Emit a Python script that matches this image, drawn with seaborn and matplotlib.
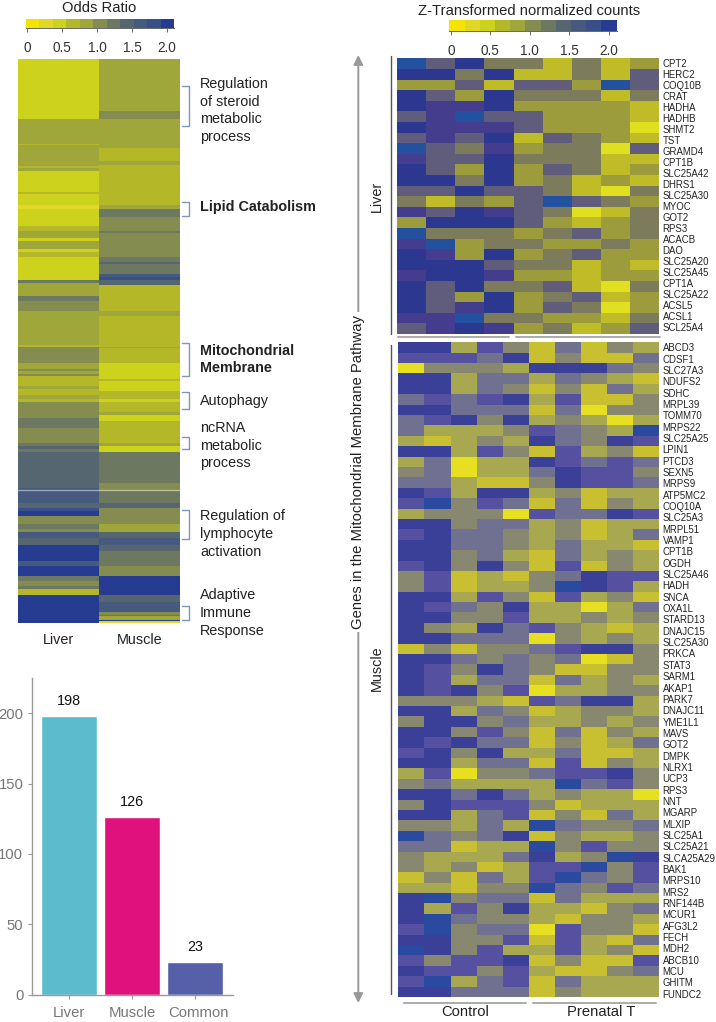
import numpy as np
import matplotlib
matplotlib.use('Agg')
import matplotlib.pyplot as plt
from matplotlib.colors import ListedColormap, Normalize
from matplotlib.cm import ScalarMappable
from matplotlib.transforms import ScaledTranslation
import seaborn as sns

W, H = 716, 1022

# odds ratio heatmap, stored as runs of terms (count, value) per tissue
or_liver_counts = [37, 15, 1, 13, 1, 2, 13, 1, 7, 2, 11, 3, 4, 2, 5, 2, 3, 14, 2, 8, 3, 6, 21, 1, 10, 4, 1, 2, 1, 6,
                   2, 4, 2, 2, 10, 6, 9, 2, 2, 2, 22, 1, 1, 7, 3, 2, 3, 5, 3, 2, 4, 4, 10, 3, 6, 3, 3, 2, 4, 17]
or_liver_vals = [.45, .85, .65, .85, .65, .85, .45, .65, .45, .25, .45, .65, .85, .45, .85, .45, .65, .45, 1.25, .85,
                 1.25, 1.05, .85, .65, 1.05, .85, 1.05, .85, 1.05, .65, .85, .65, .85, .65, 1.05, 1.25, 1.05, 1.25,
                 1.45, 1.25, 1.45, 1.6, 1.6, 1.6, 1.45, 1.8, 2.0, 1.05, 1.25, 1.05, 1.6, 1.45, 2.0, 1.6, 2.0, 1.25,
                 1.05, 1.25, .65, 2.0]
or_muscle_counts = [32, 5, 18, 8, 2, 25, 2, 5, 9, 1, 15, 3, 1, 6, 2, 2, 3, 16, 3, 19, 1, 9, 10, 1, 6, 5, 2, 6, 2, 4,
                    13, 2, 4, 19, 5, 7, 3, 10, 5, 4, 4, 4, 9, 6, 12, 4, 6, 2, 1, 2, 1, 1]
or_muscle_vals = [.85, 1.05, .85, .65, .85, .65, .85, 1.25, 1.05, 1.25, 1.05, 1.25, 1.45, 1.25, 1.6, 1.8, 1.45, .65,
                  .85, .65, .85, .65, .45, .65, .45, .65, .45, .65, .85, .45, .65, .85, .45, 1.25, 1.05, 1.25, 1.45,
                  1.05, .85, 1.45, 1.6, 1.45, 1.25, 1.05, 2.0, 1.45, 1.6, 1.05, 1.25, .85, 2.0, .25]
or_columns = ['Liver', 'Muscle']

# counts of genes per group
bar_groups = ['Liver', 'Muscle', 'Common']
bar_counts = [198, 126, 23]
bar_colors = ['#5BBCCE', '#DF117D', '#5560A8']

scale_colors = ['#F4E400', '#E0D824', '#CDD21C', '#B4B828', '#A0A73A', '#848C50',
                '#6C7860', '#566670', '#465A80', '#384F8A', '#263C90']
scale_ticks = [0, 0.5, 1.0, 1.5, 2.0]
scale_ticklabels = ['0', '0.5', '1.0', '1.5', '2.0']

# gene panels: colour bin 0 (yellow) .. 7 (blue) read cell by cell
liver_colors = ['#E0E020', '#C0BC28', '#9C9C3C', '#7C7C5C', '#605C7C', '#443C8C', '#2C3890', '#2450A0']
muscle_colors = ['#E6E020', '#C8C030', '#A8A850', '#888870', '#707090', '#5550A0', '#3A4098', '#2A4AA0']

liver_genes = ['CPT2', 'HERC2', 'COQ10B', 'CRAT', 'HADHA', 'HADHB', 'SHMT2', 'TST', 'GRAMD4', 'CPT1B', 'SLC25A42',
               'DHRS1', 'SLC25A30', 'MYOC', 'GOT2', 'RPS3', 'ACACB', 'DAO', 'SLC25A20', 'SLC25A45', 'CPT1A',
               'SLC25A22', 'ACSL5', 'ACSL1', 'SCL25A4']
muscle_genes = ['ABCD3', 'CDSF1', 'SLC27A3', 'NDUFS2', 'SDHC', 'MRPL39', 'TOMM70', 'MRPS22', 'SLC25A25', 'LPIN1',
                'PTCD3', 'SEXN5', 'MRPS9', 'ATP5MC2', 'COQ10A', 'SLC25A3', 'MRPL51', 'VAMP1', 'CPT1B', 'OGDH',
                'SLC25A46', 'HADH', 'SNCA', 'OXA1L', 'STARD13', 'DNAJC15', 'SLC25A30', 'PRKCA', 'STAT3', 'SARM1',
                'AKAP1', 'PARK7', 'DNAJC11', 'YME1L1', 'MAVS', 'GOT2', 'DMPK', 'NLRX1', 'UCP3', 'RPS3',
                'NNT', 'MGARP', 'MLXIP', 'SLC25A1', 'SLC25A21', 'SLCA25A29', 'BAK1', 'MRPS10', 'MRS2', 'RNF144B',
                'MCUR1', 'AFG3L2', 'FECH', 'MDH2', 'ABCB10', 'MCU', 'GHITM', 'FUNDC2']

liver_bins = [
    [7, 4, 6, 3, 3, 1, 3, 1, 2], [6, 6, 3, 6, 1, 1, 3, 1, 4], [2, 2, 4, 1, 4, 4, 2, 7, 4],
    [6, 4, 2, 6, 3, 3, 3, 1, 3], [6, 5, 5, 6, 2, 2, 2, 2, 1], [4, 5, 7, 4, 4, 2, 2, 2, 1],
    [6, 5, 5, 5, 4, 2, 2, 2, 0], [4, 5, 4, 6, 1, 4, 3, 2, 1], [7, 4, 3, 5, 2, 3, 3, 0, 4],
    [5, 4, 4, 6, 3, 3, 3, 1, 1], [6, 4, 2, 6, 2, 4, 3, 1, 2], [6, 6, 3, 6, 2, 3, 1, 2, 1],
    [4, 4, 6, 4, 4, 3, 1, 0, 3], [3, 1, 3, 2, 4, 7, 4, 3, 2], [5, 4, 6, 5, 4, 3, 0, 1, 3],
    [2, 6, 6, 6, 4, 2, 1, 2, 3], [7, 3, 3, 3, 2, 3, 4, 2, 3], [5, 7, 2, 3, 3, 2, 2, 3, 2],
    [6, 5, 2, 6, 2, 3, 4, 2, 2], [6, 6, 6, 4, 3, 3, 1, 2, 1], [5, 6, 6, 5, 2, 2, 1, 2, 2],
    [6, 4, 6, 3, 3, 4, 1, 0, 3], [6, 4, 2, 6, 2, 3, 4, 1, 2], [6, 4, 5, 6, 2, 4, 3, 0, 2],
    [5, 5, 7, 3, 3, 2, 2, 1, 3], [4, 5, 6, 5, 2, 3, 1, 2, 4],
]
muscle_bins = [
    [6, 6, 2, 5, 3, 1, 4, 1, 3, 2], [5, 5, 5, 4, 6, 1, 3, 1, 1, 4], [0, 3, 3, 3, 2, 6, 6, 6, 4, 3],
    [6, 6, 2, 4, 4, 2, 4, 3, 2, 1], [6, 6, 2, 4, 3, 1, 3, 1, 4, 2], [4, 5, 4, 5, 6, 2, 5, 1, 1, 3],
    [6, 6, 4, 4, 4, 1, 4, 0, 3, 3], [4, 5, 6, 3, 6, 2, 3, 2, 0, 2], [4, 2, 2, 2, 3, 5, 4, 3, 2, 7],
    [2, 1, 2, 3, 2, 6, 4, 3, 6, 5], [6, 6, 2, 5, 3, 1, 5, 2, 3, 1], [2, 4, 0, 2, 2, 6, 5, 4, 5, 4],
    [3, 4, 0, 2, 2, 4, 6, 5, 5, 3], [4, 4, 2, 1, 1, 3, 6, 5, 5, 4], [6, 5, 2, 6, 6, 2, 3, 1, 2, 2],
    [5, 7, 3, 5, 4, 1, 4, 1, 3, 2], [2, 3, 3, 3, 0, 5, 4, 4, 6, 5], [6, 6, 3, 4, 4, 2, 3, 1, 2, 2],
    [5, 6, 4, 4, 3, 2, 3, 1, 2, 4], [6, 6, 4, 4, 3, 2, 4, 2, 2, 1], [6, 6, 3, 4, 2, 1, 4, 2, 3, 2],
    [5, 6, 3, 6, 3, 1, 5, 1, 3, 2], [3, 5, 1, 2, 1, 3, 4, 6, 5, 5], [3, 5, 1, 2, 2, 3, 7, 6, 5, 2],
    [6, 6, 2, 5, 3, 1, 5, 2, 3, 1], [6, 5, 4, 3, 6, 2, 2, 0, 2, 4], [6, 6, 3, 3, 5, 2, 2, 3, 2, 3],
    [6, 3, 2, 6, 4, 5, 3, 2, 1, 2], [6, 6, 4, 4, 4, 0, 3, 2, 3, 2], [1, 3, 1, 3, 3, 4, 5, 6, 6, 3],
    [6, 6, 4, 3, 4, 3, 4, 0, 1, 3], [6, 5, 3, 6, 4, 3, 1, 1, 3, 3], [6, 5, 2, 4, 4, 1, 4, 2, 3, 2],
    [6, 5, 6, 3, 5, 0, 2, 2, 3, 3], [3, 3, 3, 2, 1, 5, 4, 6, 6, 2], [6, 6, 2, 4, 3, 1, 2, 3, 3, 2],
    [3, 6, 6, 3, 4, 2, 2, 3, 2, 3], [6, 6, 3, 5, 3, 1, 4, 1, 3, 2], [6, 5, 6, 4, 4, 1, 3, 1, 2, 4],
    [5, 6, 3, 6, 2, 2, 4, 1, 1, 2], [6, 6, 2, 4, 4, 1, 5, 1, 3, 2], [2, 5, 0, 3, 3, 4, 5, 5, 6, 3],
    [3, 4, 2, 2, 2, 2, 7, 4, 5, 3], [6, 6, 4, 6, 4, 2, 3, 2, 2, 0], [3, 6, 5, 5, 5, 3, 1, 2, 2, 2],
    [6, 6, 2, 4, 5, 1, 3, 1, 4, 2], [3, 3, 2, 4, 2, 7, 4, 3, 3, 4], [7, 4, 3, 4, 6, 1, 3, 2, 2, 3],
    [4, 4, 1, 2, 2, 7, 3, 5, 3, 3], [3, 2, 2, 2, 4, 6, 2, 3, 7, 6], [3, 2, 3, 1, 2, 5, 5, 7, 3, 5],
    [1, 3, 1, 4, 2, 5, 7, 4, 3, 5], [2, 2, 1, 3, 3, 7, 4, 3, 5, 4], [6, 7, 3, 4, 4, 1, 4, 2, 2, 2],
    [6, 2, 5, 3, 6, 2, 2, 1, 3, 4], [6, 7, 4, 3, 3, 2, 1, 3, 3, 2], [5, 7, 3, 4, 4, 0, 5, 3, 3, 1],
    [6, 6, 3, 3, 5, 1, 5, 2, 1, 4], [7, 6, 3, 5, 2, 2, 5, 2, 3, 1], [5, 3, 5, 5, 6, 1, 3, 1, 1, 5],
    [6, 5, 5, 3, 5, 2, 1, 1, 3, 4], [5, 7, 2, 4, 5, 1, 4, 2, 2, 2], [6, 6, 4, 4, 4, 1, 3, 2, 2, 2],
]

sns.set_theme(style='white')
plt.rcParams['font.family'] = ['Liberation Sans', 'DejaVu Sans']

fig = plt.figure(figsize=(W / 100, H / 100), dpi=100)


def px_ax(x0, y0, x1, y1):
    return fig.add_axes([x0 / W, 1 - y1 / H, (x1 - x0) / W, (y1 - y0) / H])


def scale_bar(x0, y0, x1, y1):
    cax = px_ax(x0, y0, x1, y1)
    sm = ScalarMappable(norm=Normalize(-0.02, 2.1), cmap=ListedColormap(scale_colors))
    cb = fig.colorbar(sm, cax=cax, orientation='horizontal', ticks=scale_ticks)
    cb.set_ticklabels(scale_ticklabels)
    cb.outline.set_visible(False)
    cax.spines['bottom'].set_visible(True)
    cax.spines['bottom'].set_color('#666666')
    cax.spines['bottom'].set_linewidth(0.7)
    cax.tick_params(length=3, width=0.7, color='#666666', labelsize=9.8, labelcolor='#333333', pad=6, bottom=True)


# odds ratio heatmap
odds = np.column_stack([np.repeat(or_liver_vals, or_liver_counts), np.repeat(or_muscle_vals, or_muscle_counts)])
ax = px_ax(18, 59, 180, 623)
sns.heatmap(odds, ax=ax, vmin=-0.02, vmax=2.1, cmap=ListedColormap(scale_colors), cbar=False,
            xticklabels=or_columns, yticklabels=False)
ax.tick_params(axis='x', length=0, labelsize=10.4, labelcolor='#222222', pad=7)
scale_bar(26, 19, 174, 28)

# bars
ax = px_ax(31.7, 678, 232.7, 994.7)
sns.barplot(x=bar_groups, y=bar_counts, hue=bar_groups, palette=bar_colors, gap=0.0, width=0.89,
            legend=False, saturation=1, ax=ax)
ax.set_xlim(-0.592, 2.6)
ax.set_ylim(0, 225)
ax.set_yticks([0, 50, 100, 150, 200])
for c in ax.containers:
    ax.bar_label(c, fontsize=10.4, color='#111111', padding=6)
sns.despine(ax=ax)
for s in ['left', 'bottom']:
    ax.spines[s].set_color('#999999')
    ax.spines[s].set_linewidth(1)
ax.tick_params(left=True, bottom=True, length=3, width=0.8, color='#999999', labelsize=10.7,
               labelcolor='#777777', pad=3)
ax.tick_params(axis='x', pad=5)
# Common label sits a little right of its tick in the figure
ax.get_xticklabels()[2].set_transform(ax.get_xticklabels()[2].get_transform()
                                      + ScaledTranslation(0.04, 0, fig.dpi_scale_trans))

# gene panels
ax = px_ax(397, 58.3, 659.3, 334)
sns.heatmap(liver_bins, ax=ax, vmin=-0.5, vmax=7.5, cmap=ListedColormap(liver_colors), cbar=False,
            xticklabels=False, yticklabels=False)
ax = px_ax(398.3, 342.3, 659.3, 997)
sns.heatmap(muscle_bins, ax=ax, vmin=-0.5, vmax=7.5, cmap=ListedColormap(muscle_colors), cbar=False,
            xticklabels=False, yticklabels=False)
scale_bar(449.3, 20, 616.7, 31.5)

# overlay for text and brackets, in pixels
ov = fig.add_axes([0, 0, 1, 1], facecolor='none')
ov.set_xlim(0, W)
ov.set_ylim(H, 0)
ov.axis('off')

ov.text(99, 7.5, 'Odds Ratio', ha='center', va='center', fontsize=10.6, color='#222222')
ov.text(529, 11, 'Z-Transformed normalized counts', ha='center', va='center', fontsize=10.6, color='#222222')

ov.plot([18, 180], [490, 490], color='white', alpha=0.45, lw=1)

notes = [
    (200, [83.7, 101.7, 119, 137.3], ['Regulation', 'of steroid', 'metabolic', 'process'], 'normal'),
    (200, [206.7], ['Lipid Catabolism'], 'bold'),
    (200, [350.7, 368.3], ['Mitochondrial', 'Membrane'], 'bold'),
    (200, [400.7], ['Autophagy'], 'normal'),
    (200, [427.7, 445.7, 463.3], ['ncRNA', 'metabolic', 'process'], 'normal'),
    (200, [516, 534, 552], ['Regulation of', 'lymphocyte', 'activation'], 'normal'),
    (200, [595.3, 613, 630.7], ['Adaptive', 'Immune', 'Response'], 'normal'),
]
for x, ys, lines, weight in notes:
    for y, line in zip(ys, lines):
        ov.text(x, y, line, ha='left', va='center', fontsize=10.4, fontweight=weight, color='#222222')

brackets = [(85.7, 125.7), (201.7, 216), (342.7, 375.7), (392.3, 409), (436.7, 449.3), (510, 539.3), (605.7, 620)]
for y0, y1 in brackets:
    ov.plot([182, 189.3, 189.3, 182], [y0, y0, y1, y1], color='#7F97BC', lw=1)

for y, name in zip(np.linspace(64.3, 328.3, len(liver_genes)), liver_genes):
    ov.text(662.7, y, name, ha='left', va='center', fontsize=6.9, color='#222222')
for y, name in zip(np.linspace(348.3, 994.7, len(muscle_genes)), muscle_genes):
    ov.text(662.7, y, name, ha='left', va='center', fontsize=6.9, color='#222222')

ov.annotate('', xy=(358.3, 55), xytext=(358.3, 1003),
            arrowprops=dict(arrowstyle='<|-|>', color='#999999', lw=1.4, mutation_scale=14, shrinkA=0, shrinkB=0))
ov.text(358.3, 472, 'Genes in the Mitochondrial Membrane Pathway', rotation=90, ha='center', va='center',
        fontsize=10.7, color='#222222', bbox=dict(facecolor='white', edgecolor='none', pad=2))

ov.plot([390.5, 390.5], [56, 334], color='#555555', lw=1)
ov.plot([390.5, 390.5], [345, 994], color='#555555', lw=1)
ov.text(377, 196, 'Liver', rotation=90, ha='center', va='center', fontsize=10.4, color='#222222')
ov.text(377, 668, 'Muscle', rotation=90, ha='center', va='center', fontsize=10.4, color='#222222')

for x0, x1, y in [(398.3, 509, 337.5), (515.7, 660, 337.5), (404, 526, 1002.7), (533, 656, 1002.7)]:
    ov.plot([x0, x1], [y, y], color='#ABABAB', lw=1.4)
ov.text(465, 1012.5, 'Control', ha='center', va='center', fontsize=10.6, color='#222222')
ov.text(601, 1012.5, 'Prenatal T', ha='center', va='center', fontsize=10.6, color='#222222')

fig.savefig('out.png', dpi=100)
